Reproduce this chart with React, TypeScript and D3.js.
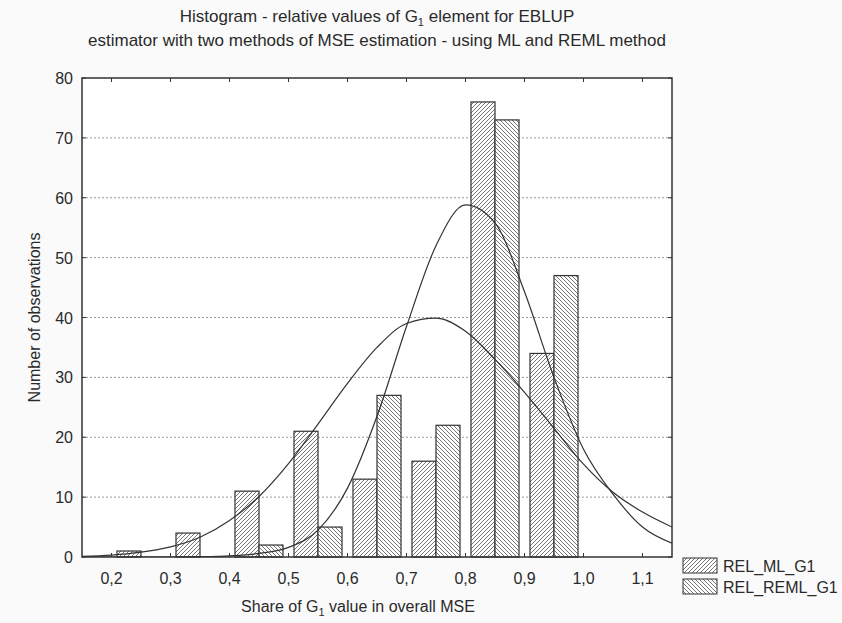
import React from 'react';
import * as d3 from 'd3';

const binStarts = [0.2, 0.3, 0.4, 0.5, 0.6, 0.7, 0.8, 0.9];
const mlCounts = [1, 4, 11, 21, 13, 16, 76, 34];
const remlCounts = [0, 0, 2, 5, 27, 22, 73, 47];
const seriesNames = ['REL_ML_G1', 'REL_REML_G1'];
const xTicks = [0.2, 0.3, 0.4, 0.5, 0.6, 0.7, 0.8, 0.9, 1.0, 1.1];
const yTicks = [0, 10, 20, 30, 40, 50, 60, 70, 80];
const curveX = [0.15, 0.2, 0.25, 0.3, 0.35, 0.4, 0.45, 0.5, 0.55, 0.6, 0.65, 0.7, 0.75, 0.8, 0.85, 0.9, 0.95, 1.0, 1.05, 1.1, 1.15];
const mlCurve = [0.1, 0.3, 0.8, 1.7, 3.3, 6.1, 10.1, 15.6, 22.2, 29.0, 35.0, 39.0, 39.9, 37.7, 33.0, 27.5, 21.5, 15.5, 10.8, 7.5, 5.0];
const remlCurve = [0, 0, 0, 0, 0.05, 0.2, 0.6, 1.6, 4.5, 11.5, 23.5, 38.5, 52, 58.8, 55.8, 44.3, 30, 18, 10.5, 5, 2.3];

const FONT = '"Liberation Sans", Arial, sans-serif';

export default function App() {
  const W = 842, H = 623;
  const L = 82, R = 672, T = 78, B = 557;
  const x = d3.scaleLinear().domain([0.15, 1.15]).range([L, R]);
  const y = d3.scaleLinear().domain([0, 80]).range([B, T]);
  const binW = x(0.1) - x(0);
  const barW = binW * 0.407;
  const fmt = (v: number) => d3.format('.1f')(v).replace('.', ',');
  const line = (vals: number[]) =>
    d3.line<number>().x((_, i) => x(curveX[i])).y((d) => y(d)).curve(d3.curveMonotoneX)(vals) || '';
  const textCol = '#2a2a2a';
  const fs = 16;

  return (
    <svg width={W} height={H} style={{ position: 'absolute', left: 0, top: 0, background: '#fafafa' }} fontFamily={FONT}>
      <defs>
        <pattern id="hML" patternUnits="userSpaceOnUse" width="4" height="4">
          <rect width="4" height="4" fill="#fff" />
          <path d="M-1,1 l2,-2 M0,4 l4,-4 M3,5 l2,-2" stroke="#666" strokeWidth="0.9" />
        </pattern>
        <pattern id="hREML" patternUnits="userSpaceOnUse" width="4" height="4">
          <rect width="4" height="4" fill="#fff" />
          <path d="M-1,3 l2,2 M0,0 l4,4 M3,-1 l2,2" stroke="#666" strokeWidth="0.9" />
        </pattern>
        <clipPath id="plotClip">
          <rect x={L} y={T} width={R - L} height={B - T} />
        </clipPath>
      </defs>
      <rect x={0} y={0} width={W} height={H} fill="#fafafa" />
      <rect x={L} y={T} width={R - L} height={B - T} fill="#fff" />

      {/* titles */}
      <text x={(L + R) / 2} y={22} textAnchor="middle" fontSize={17} fill={textCol}>
        Histogram - relative values of G<tspan fontSize={11} dy={4}>1</tspan>
        <tspan dy={-4}> element for EBLUP</tspan>
      </text>
      <text x={(L + R) / 2} y={46} textAnchor="middle" fontSize={17} fill={textCol}>
        estimator with two methods of MSE estimation - using ML and REML method
      </text>

      {/* grid */}
      {yTicks.filter((t) => t > 0 && t < 80).map((t) => (
        <line key={'g' + t} x1={L} x2={R} y1={y(t)} y2={y(t)} stroke="#999" strokeWidth={1} strokeDasharray="2,2" />
      ))}

      {/* bars */}
      {binStarts.map((b, i) => {
        const c = x(b + 0.05);
        return (
          <g key={'b' + i}>
            {mlCounts[i] > 0 && (
              <rect x={c - barW} y={y(mlCounts[i])} width={barW} height={y(0) - y(mlCounts[i])}
                fill="url(#hML)" stroke="#333" strokeWidth={1.2} />
            )}
            {remlCounts[i] > 0 && (
              <rect x={c} y={y(remlCounts[i])} width={barW} height={y(0) - y(remlCounts[i])}
                fill="url(#hREML)" stroke="#333" strokeWidth={1.2} />
            )}
          </g>
        );
      })}

      {/* fitted curves */}
      <g clipPath="url(#plotClip)">
        <path d={line(mlCurve)} fill="none" stroke="#333" strokeWidth={1.2} />
        <path d={line(remlCurve)} fill="none" stroke="#333" strokeWidth={1.2} />
      </g>

      {/* frame */}
      <rect x={L} y={T} width={R - L} height={B - T} fill="none" stroke="#333" strokeWidth={1.5} />

      {/* ticks */}
      {yTicks.map((t) => (
        <g key={'yt' + t}>
          <line x1={L} x2={L + 4} y1={y(t)} y2={y(t)} stroke="#333" />
          <line x1={R - 4} x2={R} y1={y(t)} y2={y(t)} stroke="#333" />
          <text x={L - 9} y={y(t) + 6} textAnchor="end" fontSize={fs} fill={textCol}>{t}</text>
        </g>
      ))}
      {xTicks.map((t) => (
        <g key={'xt' + t}>
          <line x1={x(t)} x2={x(t)} y1={B} y2={B - 4} stroke="#333" />
          <line x1={x(t)} x2={x(t)} y1={T} y2={T + 4} stroke="#333" />
          <text x={x(t)} y={B + 27} textAnchor="middle" fontSize={fs} fill={textCol}>{fmt(t)}</text>
        </g>
      ))}

      {/* axis titles */}
      <text transform={`translate(${40},${(T + B) / 2}) rotate(-90)`} textAnchor="middle" fontSize={fs} fill={textCol}>
        Number of observations
      </text>
      <text x={358} y={612} textAnchor="middle" fontSize={fs} fill={textCol}>
        Share of G<tspan fontSize={11} dy={4}>1</tspan><tspan dy={-4}> value in overall MSE</tspan>
      </text>

      {/* legend */}
      {seriesNames.map((s, i) => (
        <g key={s} transform={`translate(683,${558 + i * 21})`}>
          <rect x={0} y={0} width={34} height={15} fill={i === 0 ? 'url(#hML)' : 'url(#hREML)'} stroke="#333" />
          <text x={40} y={14} fontSize={fs} fill={textCol}>{s}</text>
        </g>
      ))}
    </svg>
  );
}
